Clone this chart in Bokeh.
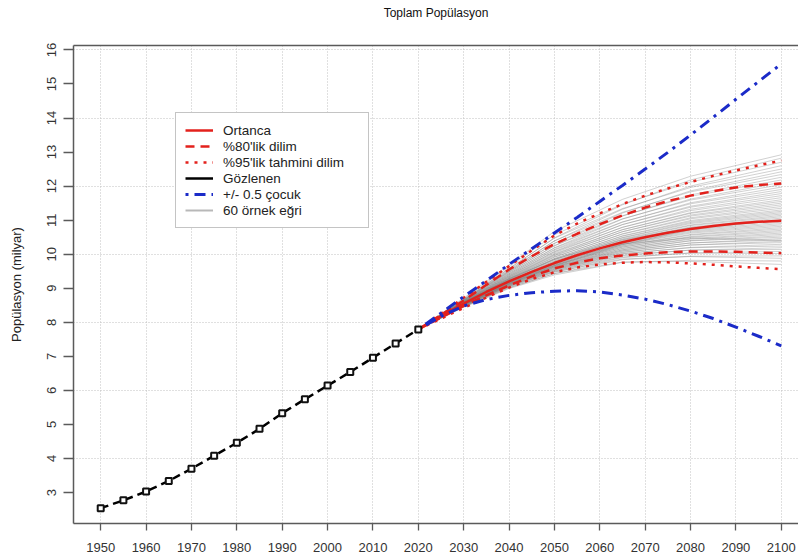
from bokeh.plotting import figure
from bokeh.models import Range1d, FixedTicker, LinearAxis, Legend, LegendItem
from bokeh.embed import file_html
from bokeh.resources import INLINE

# ---------------- data ----------------
title_text = "Toplam Popülasyon"
y_label = "Popülasyon (milyar)"

x_ticks = [1950, 1960, 1970, 1980, 1990, 2000, 2010, 2020, 2030, 2040,
           2050, 2060, 2070, 2080, 2090, 2100]
y_ticks = [3, 4, 5, 6, 7, 8, 9, 10, 11, 12, 13, 14, 15, 16]
y_grid = [4, 6, 8, 10, 12, 14, 16]

obs_years = [1950, 1955, 1960, 1965, 1970, 1975, 1980, 1985, 1990, 1995,
             2000, 2005, 2010, 2015, 2020]
observed = [2.54, 2.77, 3.03, 3.34, 3.70, 4.08, 4.46, 4.87, 5.33, 5.74,
            6.14, 6.54, 6.96, 7.38, 7.79]

proj_years = [2020, 2025, 2030, 2035, 2040, 2045, 2050, 2055, 2060, 2065,
              2070, 2075, 2080, 2085, 2090, 2095, 2100]
median = [7.79, 8.18, 8.55, 8.89, 9.20, 9.48, 9.74, 9.97, 10.17, 10.35,
          10.50, 10.63, 10.74, 10.83, 10.90, 10.95, 10.98]
pi80_upper = [7.79, 8.22, 8.64, 9.10, 9.55, 9.94, 10.30, 10.60, 10.88, 11.14,
              11.37, 11.56, 11.72, 11.85, 11.96, 12.03, 12.08]
pi80_lower = [7.79, 8.14, 8.48, 8.79, 9.08, 9.35, 9.58, 9.75, 9.88, 9.96,
              10.02, 10.06, 10.08, 10.08, 10.07, 10.05, 10.03]
pi95_upper = [7.79, 8.25, 8.72, 9.19, 9.65, 10.11, 10.55, 10.90, 11.20, 11.47,
              11.72, 11.93, 12.12, 12.30, 12.46, 12.61, 12.75]
pi95_lower = [7.79, 8.11, 8.42, 8.73, 9.02, 9.27, 9.47, 9.61, 9.70, 9.75,
              9.77, 9.76, 9.73, 9.69, 9.64, 9.60, 9.56]
high_variant = [7.79, 8.27, 8.75, 9.22, 9.70, 10.16, 10.62, 11.08, 11.55, 12.02,
                12.50, 12.99, 13.50, 14.02, 14.55, 15.07, 15.59]
low_variant = [7.79, 8.18, 8.48, 8.67, 8.79, 8.87, 8.91, 8.93, 8.89, 8.80,
               8.68, 8.52, 8.33, 8.11, 7.86, 7.59, 7.31]

sample_years = [2020, 2030, 2040, 2050, 2065, 2080, 2100]
sample_start = 7.79
sample_curves = [
    [8.46, 9.02, 9.43, 9.77, 9.79, 9.70],
    [8.44, 8.99, 9.39, 9.76, 9.82, 9.80],
    [8.47, 9.05, 9.48, 9.86, 9.93, 9.88],
    [8.46, 9.01, 9.43, 9.84, 9.94, 9.95],
    [8.48, 9.07, 9.51, 9.92, 10.03, 10.02],
    [8.47, 9.04, 9.47, 9.90, 10.04, 10.08],
    [8.49, 9.08, 9.54, 9.97, 10.12, 10.14],
    [8.48, 9.06, 9.50, 9.96, 10.12, 10.19],
    [8.50, 9.10, 9.56, 10.02, 10.19, 10.24],
    [8.49, 9.08, 9.53, 10.01, 10.20, 10.29],
    [8.51, 9.11, 9.59, 10.06, 10.27, 10.34],
    [8.50, 9.09, 9.56, 10.05, 10.27, 10.38],
    [8.51, 9.12, 9.61, 10.10, 10.33, 10.42],
    [8.50, 9.11, 9.58, 10.09, 10.33, 10.46],
    [8.52, 9.13, 9.63, 10.13, 10.39, 10.50],
    [8.51, 9.12, 9.61, 10.13, 10.40, 10.54],
    [8.52, 9.14, 9.64, 10.17, 10.44, 10.58],
    [8.52, 9.14, 9.63, 10.17, 10.46, 10.62],
    [8.53, 9.16, 9.66, 10.21, 10.50, 10.66],
    [8.52, 9.15, 9.66, 10.21, 10.52, 10.70],
    [8.53, 9.17, 9.68, 10.24, 10.56, 10.74],
    [8.53, 9.16, 9.68, 10.25, 10.58, 10.78],
    [8.54, 9.18, 9.70, 10.28, 10.62, 10.82],
    [8.54, 9.18, 9.70, 10.29, 10.65, 10.86],
    [8.54, 9.19, 9.72, 10.31, 10.68, 10.90],
    [8.55, 9.19, 9.73, 10.33, 10.71, 10.94],
    [8.56, 9.22, 9.76, 10.30, 10.48, 10.40],
    [8.58, 9.28, 9.85, 10.42, 10.78, 10.98],
    [8.52, 9.14, 9.66, 10.28, 10.72, 11.00],
    [8.55, 9.21, 9.76, 10.38, 10.77, 11.02],
    [8.55, 9.22, 9.77, 10.40, 10.80, 11.06],
    [8.56, 9.23, 9.80, 10.43, 10.84, 11.10],
    [8.56, 9.23, 9.80, 10.45, 10.86, 11.14],
    [8.57, 9.25, 9.84, 10.48, 10.90, 11.18],
    [8.56, 9.25, 9.84, 10.49, 10.93, 11.22],
    [8.57, 9.27, 9.87, 10.53, 10.96, 11.26],
    [8.57, 9.26, 9.87, 10.54, 10.99, 11.30],
    [8.58, 9.29, 9.92, 10.59, 11.04, 11.35],
    [8.58, 9.28, 9.91, 10.60, 11.07, 11.40],
    [8.59, 9.32, 9.97, 10.66, 11.12, 11.45],
    [8.58, 9.30, 9.95, 10.66, 11.15, 11.50],
    [8.60, 9.34, 10.01, 10.72, 11.20, 11.55],
    [8.59, 9.32, 9.99, 10.72, 11.22, 11.60],
    [8.60, 9.37, 10.07, 10.79, 11.28, 11.66],
    [8.59, 9.35, 10.04, 10.79, 11.32, 11.72],
    [8.61, 9.40, 10.12, 10.87, 11.38, 11.78],
    [8.60, 9.37, 10.08, 10.87, 11.41, 11.84],
    [8.62, 9.43, 10.18, 10.95, 11.48, 11.90],
    [8.61, 9.40, 10.14, 10.94, 11.51, 11.97],
    [8.64, 9.47, 10.25, 11.04, 11.59, 12.04],
    [8.62, 9.43, 10.19, 11.03, 11.62, 12.11],
    [8.65, 9.50, 10.32, 11.13, 11.70, 12.18],
    [8.63, 9.46, 10.25, 11.12, 11.74, 12.26],
    [8.66, 9.54, 10.39, 11.23, 11.83, 12.34],
    [8.64, 9.49, 10.32, 11.21, 11.86, 12.42],
    [8.67, 9.58, 10.47, 11.34, 11.96, 12.50],
    [8.65, 9.52, 10.39, 11.32, 12.00, 12.60],
    [8.69, 9.63, 10.57, 11.47, 12.12, 12.70],
    [8.66, 9.57, 10.48, 11.45, 12.18, 12.82],
    [8.71, 9.69, 10.67, 11.61, 12.29, 12.92],
]

legend_labels = ["Ortanca", "%80'lik dilim", "%95'lik tahmini dilim",
                 "Gözlenen", "+/- 0.5 çocuk", "60 örnek eğri"]

# ---------------- styles ----------------
FONT = "Liberation Sans"
RED = "#e3211c"
BLUE = "#1b2bc8"
AXIS = "#5a5a5a"
NAN = float("nan")

p = figure(width=798, height=560, output_backend="svg", toolbar_location=None,
           x_range=Range1d(1944, 2103.8), y_range=Range1d(2.09, 16.13),
           min_border_left=73, min_border_right=0, min_border_top=45,
           min_border_bottom=37)
p.outline_line_color = None
p.background_fill_color = "white"
p.border_fill_color = "white"

# grids
p.xgrid.ticker = FixedTicker(ticks=x_ticks)
p.ygrid.ticker = FixedTicker(ticks=y_grid)
for g in (p.xgrid, p.ygrid):
    g.grid_line_color = "#c0c0c0"
    g.grid_line_dash = "1 2"
    g.grid_line_width = 1

# axes
p.xaxis.ticker = FixedTicker(ticks=x_ticks)
p.yaxis.ticker = FixedTicker(ticks=y_ticks)
for ax in (p.xaxis, p.yaxis):
    ax.axis_line_color = AXIS
    ax.axis_line_width = 1.5
    ax.major_tick_line_color = AXIS
    ax.major_tick_line_width = 1.3
    ax.major_tick_in = 0
    ax.minor_tick_line_color = None
    ax.major_label_text_font = FONT
    ax.major_label_text_font_size = "13px"
    ax.major_label_text_color = "#333333"
    ax.axis_label_text_font = FONT
    ax.axis_label_text_font_style = "normal"
    ax.axis_label_text_font_size = "13px"
    ax.axis_label_text_color = "#222222"
p.xaxis.major_tick_out = 7
p.xaxis.major_label_standoff = 12
p.yaxis.major_tick_out = 10
p.yaxis.major_label_standoff = 7
p.yaxis.major_label_orientation = "vertical"
p.yaxis.axis_label = y_label
p.yaxis.axis_label_standoff = 21

top_axis = LinearAxis(ticker=FixedTicker(ticks=[]), axis_line_color=AXIS,
                      axis_line_width=1.5, major_tick_out=0, major_tick_in=0,
                      minor_tick_out=0, minor_tick_in=0,
                      major_label_standoff=0, major_label_text_font_size="0px",
                      axis_label=title_text, axis_label_standoff=26,
                      axis_label_text_font=FONT, axis_label_text_font_size="12px",
                      axis_label_text_font_style="normal",
                      axis_label_text_color="#111111")
p.add_layout(top_axis, "above")

# sample curves
xs = [sample_years for _ in sample_curves]
ys = [[sample_start] + row for row in sample_curves]
p.multi_line(xs=xs, ys=ys, line_color="#7a7a7a", line_alpha=0.35, line_width=1)

# intervals and median
r95u = p.line(proj_years, pi95_upper, line_color=RED, line_width=2.5, line_dash="3 6")
p.line(proj_years, pi95_lower, line_color=RED, line_width=2.5, line_dash="3 6")
r80u = p.line(proj_years, pi80_upper, line_color=RED, line_width=2.5, line_dash="9 6")
p.line(proj_years, pi80_lower, line_color=RED, line_width=2.5, line_dash="9 6")
rmed = p.line(proj_years, median, line_color=RED, line_width=2.5)

# +/- 0.5 child variants
rhi = p.line(proj_years, high_variant, line_color=BLUE, line_width=3, line_dash="3 6 11 6")
p.line(proj_years, low_variant, line_color=BLUE, line_width=3, line_dash="3 6 11 6")

# observed
p.line(obs_years, observed, line_color="black", line_width=2.5, line_dash="8 5")
p.scatter(obs_years, observed, marker="square", size=6, fill_color="white",
          line_color="#111111", line_width=2)

# legend-only glyphs (no visible data)
r_obs_leg = p.line(x=[NAN], y=[NAN], line_color="black", line_width=2.5)
r_gray_leg = p.line(x=[NAN], y=[NAN], line_color="#b8b8b8", line_width=2)

legend = Legend(items=[
    LegendItem(label=legend_labels[0], renderers=[rmed]),
    LegendItem(label=legend_labels[1], renderers=[r80u]),
    LegendItem(label=legend_labels[2], renderers=[r95u]),
    LegendItem(label=legend_labels[3], renderers=[r_obs_leg]),
    LegendItem(label=legend_labels[4], renderers=[rhi]),
    LegendItem(label=legend_labels[5], renderers=[r_gray_leg]),
], location=(102, 295))
legend.label_text_font = FONT
legend.label_text_font_size = "13.5px"
legend.label_text_color = "#222222"
legend.label_height = 16
legend.glyph_height = 16
legend.glyph_width = 28
legend.label_width = 136
legend.label_standoff = 10
legend.spacing = 0
legend.padding = 9
legend.margin = 0
legend.border_line_color = "#8a8a8a"
legend.border_line_width = 1
legend.background_fill_alpha = 1
p.add_layout(legend, "center")

open("out.html", "w").write(file_html(p, INLINE))
